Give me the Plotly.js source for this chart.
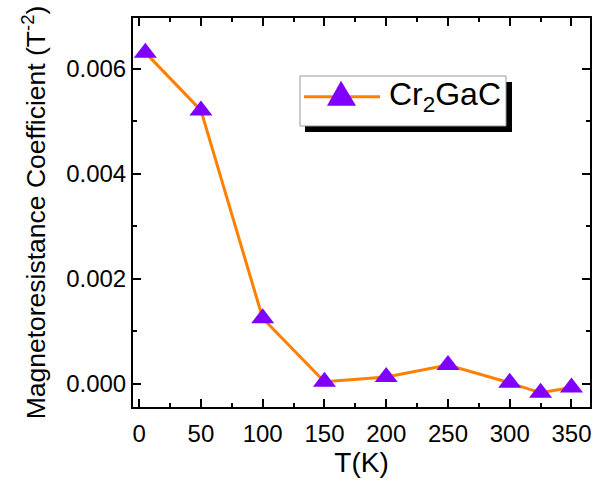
<!DOCTYPE html>
<html>
<head>
<meta charset="utf-8">
<script src="https://cdn.plot.ly/plotly-3.0.1.min.js"></script>
<style>html,body{margin:0;padding:0;background:#fff;}#chart{width:605px;height:487px;}</style>
</head>
<body>
<div id="chart"></div>
<script>
const temperatureK = [5, 50, 100, 150, 200, 250, 300, 325, 350];
const mrCoefficient = [0.00631, 0.00521, 0.00125, 0.00004, 0.00013, 0.00036, 0.00002, -0.00017, -0.00007];
const seriesName = 'Cr<sub>2</sub>GaC';
const xTickVals = [0, 50, 100, 150, 200, 250, 300, 350];
const yTickVals = [0, 0.002, 0.004, 0.006];

const lineColor = '#FF8000';
const markerColor = '#8000FF';
const fam = 'Liberation Sans, Arial, sans-serif';

const trace = {
  x: temperatureK,
  y: mrCoefficient,
  name: seriesName,
  mode: 'lines+markers',
  type: 'scatter',
  line: {color: lineColor, width: 3},
  marker: {symbol: 'triangle-up', size: 20, color: markerColor},
  showlegend: false
};

const layout = {
  width: 605, height: 487,
  margin: {l: 133, r: 15, t: 18, b: 80},
  paper_bgcolor: '#fff', plot_bgcolor: '#fff',
  font: {family: fam, color: '#000'},
  showlegend: false,
  xaxis: {
    range: [-5, 365],
    tickvals: xTickVals,
    ticktext: xTickVals.map(String),
    ticks: 'inside', ticklen: 8, tickwidth: 2, tickcolor: '#000',
    ticklabelstandoff: 4,
    minor: {dtick: 25, tick0: 0, ticks: 'inside', ticklen: 4, tickwidth: 2, tickcolor: '#000'},
    showline: true, linewidth: 2, linecolor: '#000', mirror: 'allticks',
    showgrid: false, zeroline: false,
    tickfont: {size: 24, family: fam, color: '#000'},
    title: {text: 'T(K)', font: {size: 28, family: fam, color: '#000'}, standoff: 1}
  },
  yaxis: {
    range: [-0.00044, 0.00697],
    tickvals: yTickVals,
    tickformat: '.3f',
    ticks: 'inside', ticklen: 8, tickwidth: 2, tickcolor: '#000',
    minor: {dtick: 0.001, tick0: 0, ticks: 'inside', ticklen: 4, tickwidth: 2, tickcolor: '#000'},
    showline: true, linewidth: 2, linecolor: '#000', mirror: 'allticks',
    showgrid: false, zeroline: false,
    tickfont: {size: 24, family: fam, color: '#000'},
    title: {text: 'Magnetoresistance Coefficient (T<sup>-2</sup>)', font: {size: 26.5, family: fam, color: '#000'}, standoff: 13}
  },
  shapes: [
    {type: 'rect', xref: 'paper', yref: 'paper', x0: 0.3764, x1: 0.8293, y0: 0.7069, y1: 0.8355,
     fillcolor: '#000', line: {width: 0}, layer: 'above'},
    {type: 'rect', xref: 'paper', yref: 'paper', x0: 0.3654, x1: 0.8162, y0: 0.7224, y1: 0.8509,
     fillcolor: '#fff', line: {width: 1, color: '#999'}, layer: 'above'},
    {type: 'line', xref: 'paper', yref: 'paper', x0: 0.3741, x1: 0.5405, y0: 0.7977, y1: 0.7977,
     line: {width: 3, color: lineColor}, layer: 'above'},
    {type: 'path', xref: 'paper', yref: 'paper',
     path: 'M 0.4245 0.7746 L 0.4880 0.7746 L 0.4551 0.8388 Z',
     fillcolor: markerColor, line: {width: 0}, layer: 'above'}
  ],
  annotations: [
    {xref: 'paper', yref: 'paper', x: 0.556, y: 0.7977, xanchor: 'left', yanchor: 'middle',
     text: seriesName, showarrow: false, font: {size: 32, family: fam, color: '#000'}}
  ]
};

Plotly.newPlot('chart', [trace], layout, {staticPlot: true, displayModeBar: false});
</script>
</body>
</html>
